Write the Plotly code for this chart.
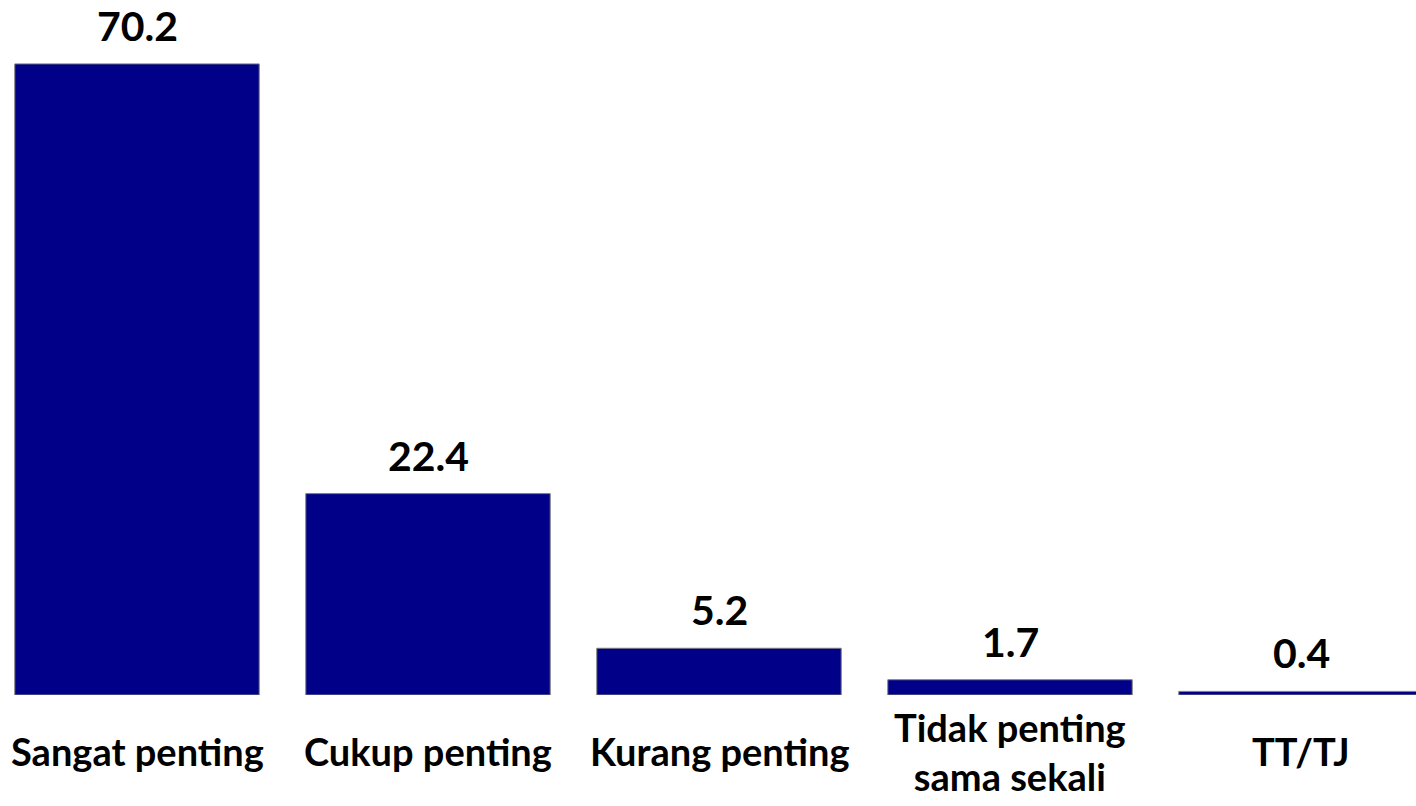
import plotly.graph_objects as go

categories = ["Sangat penting", "Cukup penting", "Kurang penting", "Tidak penting<br>sama sekali", "TT/TJ"]
values = [70.2, 22.4, 5.2, 1.7, 0.4]
value_labels = ["70.2", "22.4", "5.2", "1.7", "0.4"]

FONT = "Lato"
W, H = 1416, 806
fig = go.Figure()
fig.add_trace(go.Bar(
    x=list(range(len(categories))),
    y=values,
    marker=dict(color="#000088", line=dict(color="#7f7f7f", width=1)),
    width=0.84,
    hoverinfo="skip",
))

annotations = []
for i, (v, t) in enumerate(zip(values, value_labels)):
    annotations.append(dict(
        x=i, y=v, xref="x", yref="y", text="<b>%s</b>" % t, showarrow=False,
        yanchor="bottom", yshift=12, font=dict(family=FONT, size=41, color="black"),
    ))
for i, c in enumerate(categories):
    annotations.append(dict(
        x=i, y=0, xref="x", yref="paper", text="<b>%s</b>" % c, showarrow=False,
        yanchor="middle", yshift=-56, font=dict(family=FONT, size=38, color="black"),
    ))

fig.update_layout(
    width=W, height=H,
    margin=dict(l=0, r=0, t=0, b=111),
    paper_bgcolor="white", plot_bgcolor="white",
    showlegend=False,
    annotations=annotations,
    xaxis=dict(range=[-137/291, (W-137)/291], showticklabels=False, showgrid=False,
               zeroline=False, showline=False, ticks=""),
    yaxis=dict(range=[0, 695/8.99], visible=False),
)
fig.write_html("out.html", config={"displayModeBar": False},
               post_script="document.body.style.margin='0';document.body.style.overflow='hidden';")
